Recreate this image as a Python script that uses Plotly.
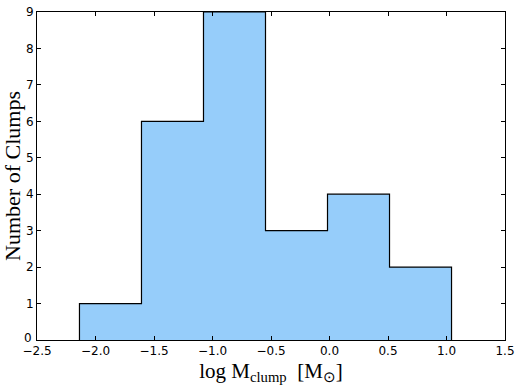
import plotly.graph_objects as go

bin_edges = [-2.137, -1.607, -1.077, -0.547, -0.017, 0.513, 1.043]
counts = [1, 6, 9, 3, 4, 2]
x_ticks = [-2.5, -2.0, -1.5, -1.0, -0.5, 0.0, 0.5, 1.0, 1.5]
y_ticks = list(range(0, 10))

xs = [bin_edges[0]] + bin_edges[:-1] + [bin_edges[-1]]
ys = [0] + counts + [0]

fig = go.Figure()
fig.add_trace(go.Scatter(
    x=xs, y=ys, mode="lines", line=dict(shape="hv", color="black", width=1.2),
    fill="tozeroy", fillcolor="#96CDFA", hoverinfo="skip", showlegend=False))

tick_font = dict(family="DejaVu Sans", size=12, color="black")
axis_common = dict(showline=True, linecolor="black", linewidth=1, mirror="ticks",
                   ticks="inside", ticklen=4, tickcolor="black", showgrid=False,
                   zeroline=False, ticklabeloverflow="allow", tickfont=tick_font)
fig.update_xaxes(range=[-2.5, 1.5], tickvals=x_ticks, tickformat=".1f",
                 title=dict(text="log M<sub>clump</sub>  [M<sub>⊙</sub>]",
                            font=dict(family="Liberation Serif", size=21, color="black"), standoff=7),
                 **axis_common)
fig.update_yaxes(range=[0, 9], tickvals=y_ticks[1:],
                 title=dict(text="Number of Clumps",
                            font=dict(family="Liberation Serif", size=22, color="black"), standoff=4),
                 **axis_common)
# the y=0 tick label (plotly hides it at the axis corner)
fig.add_annotation(x=0, xref="paper", y=y_ticks[0], yref="y", text=str(y_ticks[0]),
                   showarrow=False, xanchor="right", yanchor="middle", xshift=-3, yshift=2,
                   font=tick_font)
fig.update_layout(width=520, height=385, margin=dict(l=37, r=9, t=5, b=44),
                  plot_bgcolor="white", paper_bgcolor="white")
fig.write_html("out.html")
